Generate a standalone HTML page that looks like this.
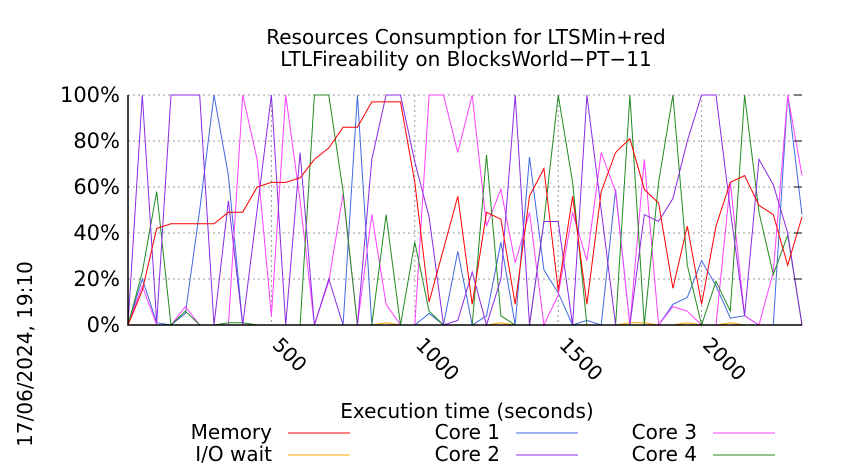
<!DOCTYPE html>
<html><head><meta charset="utf-8"><style>
body{margin:0;background:#fff;}
svg{display:block;font-family:"DejaVu Sans","Liberation Sans",sans-serif;}
</style></head><body>
<svg id="chart" width="850" height="475" viewBox="0 0 850 475">
<text x="466" y="44" font-size="20" text-anchor="middle">Resources Consumption for LTSMin+red</text>
<text x="466" y="66" font-size="20" text-anchor="middle">LTLFireability on BlocksWorld−PT−11</text>
<text transform="translate(32,354) rotate(-90)" font-size="20" text-anchor="middle">17/06/2024, 19:10</text>
<text x="467" y="418" font-size="20" text-anchor="middle">Execution time (seconds)</text>
<g id="grid"></g><g id="series"></g><g id="axes"></g><g id="legend"></g>
</svg>
<script>
const times = [];
for (let k = 0; k < 48; k++) times.push(k * 50);
const xTicks = [500, 1000, 1500, 2000];
const yTicks = [0, 20, 40, 60, 80, 100];
const yTickLabels = ["0%", "20%", "40%", "60%", "80%", "100%"];
const memory = [0,15,42,44,44,44,44,49,49,60,62,62,64,72,77,86,86,97,97,97,62,10,33,56,9,49,46,9,56,68,15,56,9,58,75,81,59,53,16,43,9,43,62,65,52,48,26,47];
const ioWait = [0,0,0,0,0,0,0,0,0,0,0,0,0,0,0,0,0,0,1,0,0,0,0,0,0,0,1,0,0,0,0,0,0,0,0,1,1,0,0,1,0,0,1,0,0,0,0,0];
const core1 = [0,20,1,0,5,50,100,65,0,0,0,0,0,0,0,0,100,0,0,0,0,5,0,32,0,4,36,0,73,24,14,0,2,0,59,0,0,0,9,12,28,17,3,4,0,0,100,48];
const core2 = [0,100,1,100,100,100,0,54,0,50,100,0,75,0,20,0,0,72,100,100,71,47,0,2,23,0,20,100,0,45,45,0,100,50,0,0,48,45,55,80,100,100,50,4,72,61,40,0];
const core3 = [0,17,0,0,8,0,0,0,100,72,4,100,54,0,19,57,0,48,9,0,0,100,100,75,100,43,59,27,49,0,13,49,28,75,58,0,72,0,8,6,0,0,62,4,0,23,100,65];
const core4 = [0,23,58,0,6,0,0,1,1,0,0,0,0,100,100,58,0,0,48,0,36,6,0,0,0,74,4,0,0,45,100,62,0,0,0,100,0,62,100,26,0,19,6,100,49,22,39,0];
const seriesNames = ["Memory","I/O wait","Core 1","Core 2","Core 3","Core 4"];
const seriesColors = ["#ff0000","#ffa500","#4169e1","#8a2be2","#ff40ff","#228b22"];
const seriesData = [memory, ioWait, core1, core2, core3, core4];

const X0=128, X1=802, Y0=325, Y1=95, TMAX=2350;
const xs = t => X0 + (t / TMAX) * (X1 - X0);
const ys = v => Y0 - (v / 100) * (Y0 - Y1);
const NS = "http://www.w3.org/2000/svg";
function mk(tag, parent){const e=document.createElementNS(NS,tag);parent.appendChild(e);return e;}
const grid=document.getElementById('grid'), axes=document.getElementById('axes'), ser=document.getElementById('series'), leg=document.getElementById('legend');

yTicks.forEach((v,i)=>{
  const y=ys(v);
  if(v>0){const g=mk('line',grid);g.setAttribute('x1',X0);g.setAttribute('x2',X1);g.setAttribute('y1',y);g.setAttribute('y2',y);g.setAttribute('stroke','#999');g.setAttribute('stroke-dasharray','2,3');
  
  }
  const r=mk('line',axes);r.setAttribute('x1',X1-8);r.setAttribute('x2',X1);r.setAttribute('y1',y);r.setAttribute('y2',y);r.setAttribute('stroke','#000');
  
  
  const t=mk('text',axes);t.setAttribute('x',120);t.setAttribute('y',y+7);t.setAttribute('text-anchor','end');t.setAttribute('font-size','21');t.textContent=yTickLabels[i];
  
  
});
xTicks.forEach(v=>{
  const x=xs(v);
  const g=mk('line',grid);g.setAttribute('x1',x);g.setAttribute('x2',x);g.setAttribute('y1',Y1);g.setAttribute('y2',Y0);g.setAttribute('stroke','#999');g.setAttribute('stroke-dasharray','2,3');
  
  
  const t=mk('text',axes);t.setAttribute('transform','translate('+(x)+','+(Y0+21)+') rotate(45)');t.setAttribute('font-size','20');t.textContent=v;
  
  
});
const ax=mk('path',axes);ax.setAttribute('d','M'+X0+','+Y1+'V'+Y0+'H'+X1);ax.setAttribute('fill','none');ax.setAttribute('stroke','#000');ax.setAttribute('stroke-width','1.5');



const order=[1,2,4,5,3,0];
order.forEach(i=>{
  const p=mk('polyline',ser);
  p.setAttribute('points',seriesData[i].map((v,k)=>xs(times[k]).toFixed(1)+','+ys(v).toFixed(1)).join(' '));
  p.setAttribute('fill','none');p.setAttribute('stroke',seriesColors[i]);p.setAttribute('stroke-width','1');
  
  
});

const legPos=[[272,439],[272,461],[500,439],[500,461],[697,439],[697,461]];
seriesNames.forEach((n,i)=>{
  const [x,y]=legPos[i];
  const t=mk('text',leg);t.setAttribute('x',x);t.setAttribute('y',y);t.setAttribute('text-anchor','end');t.setAttribute('font-size','20');t.textContent=n;
  
  
  const l=mk('line',leg);l.setAttribute('x1',x+16);l.setAttribute('x2',x+78);l.setAttribute('y1',y-6);l.setAttribute('y2',y-6);l.setAttribute('stroke',seriesColors[i]);
  
  
});
</script>
</body></html>
